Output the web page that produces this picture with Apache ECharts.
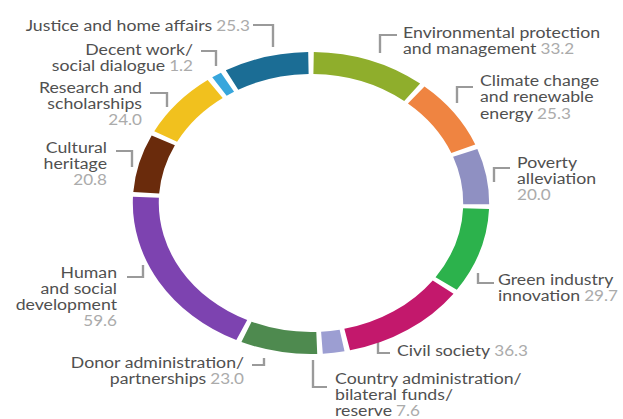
<!DOCTYPE html>
<html>
<head>
<meta charset="utf-8">
<script src="https://cdn.jsdelivr.net/npm/echarts@6/dist/echarts.min.js"></script>
<style>
  html, body { margin: 0; padding: 0; background: #fff; overflow: hidden; }
  #stage { width: 623px; height: 419px; overflow: hidden; }
  #chart { height: 419px; transform-origin: 0 0; }
</style>
</head>
<body>
<div id="stage"><div id="chart"></div></div>
<script>
// Funding by area, clockwise from 12 o'clock
const categories = [
  'Environmental protection\nand management',
  'Climate change\nand renewable\nenergy',
  'Poverty\nalleviation',
  'Green industry\ninnovation',
  'Civil society',
  'Country administration/\nbilateral funds/\nreserve',
  'Donor administration/\npartnerships',
  'Human\nand social\ndevelopment',
  'Cultural\nheritage',
  'Research and\nscholarships',
  'Decent work/\nsocial dialogue',
  'Justice and home affairs'
];
const values = [33.2, 25.3, 20.0, 29.7, 36.3, 7.6, 23.0, 59.6, 20.8, 24.0, 1.2, 25.3];
const colors = ['#8fae2c', '#ef8441', '#8f90c2', '#2cb24c', '#c3186c', '#9c9ed2',
                '#4e8a4f', '#7d43b0', '#6a2b0c', '#f1c11e', '#38a6dc', '#1b6d95'];

// The whole drawing is widened horizontally by this factor.
const SX = 1.18;
const W = 623 / SX;

// Label placement in page pixels: side, text edge x, first line centre y,
// line height, separator before the value, bracket polyline.
const placement = [
  ['left', 403, 32, 16, ' ', [[380, 53], [380, 35], [397, 35]]],
  ['left', 480, 80, 16.5, ' ', [[457, 103], [457, 87], [473, 87]]],
  ['left', 517, 162, 16, '\n', [[494, 182], [494, 168], [510, 168]]],
  ['left', 498, 279.5, 16, ' ', [[478, 273], [478, 283], [494, 283]]],
  ['left', 397, 350, 16, ' ', [[378, 340], [378, 353], [390, 353]]],
  ['left', 335, 378.5, 16, ' ', [[313, 360], [313, 387], [327, 387]]],
  ['right', 244, 362, 16, ' ', [[264, 358], [264, 365], [252, 365]]],
  ['right', 117, 272, 16, '\n', [[143, 265], [143, 277], [127, 277]]],
  ['right', 107, 147, 16, '\n', [[132, 167], [132, 151], [116, 151]]],
  ['right', 142, 87, 16, '\n', [[167, 107], [167, 93], [150, 93]]],
  ['right', 193, 49, 16, ' ', [[216, 66], [216, 51], [201, 51]]],
  ['right', 250, 25, 16, ' ', [[273, 47], [273, 25], [253, 25]]]
];

const el = document.getElementById('chart');
el.style.width = W + 'px';
el.style.transform = 'scaleX(' + SX + ')';

const font = 'Lato, "Open Sans", sans-serif';

const data = categories.map((name, i) => {
  const p = placement[i];
  const lh = p[3];
  return {
    name: name,
    value: values[i],
    itemStyle: { color: colors[i] },
    label: {
      formatter: (prm) => '{n|' + prm.name + '}' + p[4] + '{v|' + prm.value.toFixed(1) + '}',
      rich: {
        n: { color: '#505050', fontSize: 15, fontFamily: font, lineHeight: lh, align: p[0] },
        v: { color: '#ababab', fontSize: 14.5, fontFamily: font, lineHeight: lh, align: p[0] }
      }
    }
  };
});

const chart = echarts.init(el, null, { renderer: 'svg' });
chart.setOption({
  animation: false,
  series: [{
    type: 'pie',
    center: [311 / SX, 203],
    radius: [129, 151],
    startAngle: 90,
    clockwise: true,
    padAngle: 1.8,
    minAngle: 3.3,
    avoidLabelOverlap: false,
    silent: true,
    label: { show: true, position: 'outside' },
    labelLine: {
      show: true, length: 4, length2: 4, smooth: false,
      lineStyle: { color: '#9a9a9a', width: 2 }
    },
    labelLayout: (params) => {
      const p = placement[params.dataIndex];
      return {
        x: p[1] / SX,
        y: p[2] - p[3] / 2,
        align: p[0],
        verticalAlign: 'top',
        labelLinePoints: p[5].map(pt => [pt[0] / SX, pt[1]])
      };
    },
    data: data
  }]
});
</script>
</body>
</html>
